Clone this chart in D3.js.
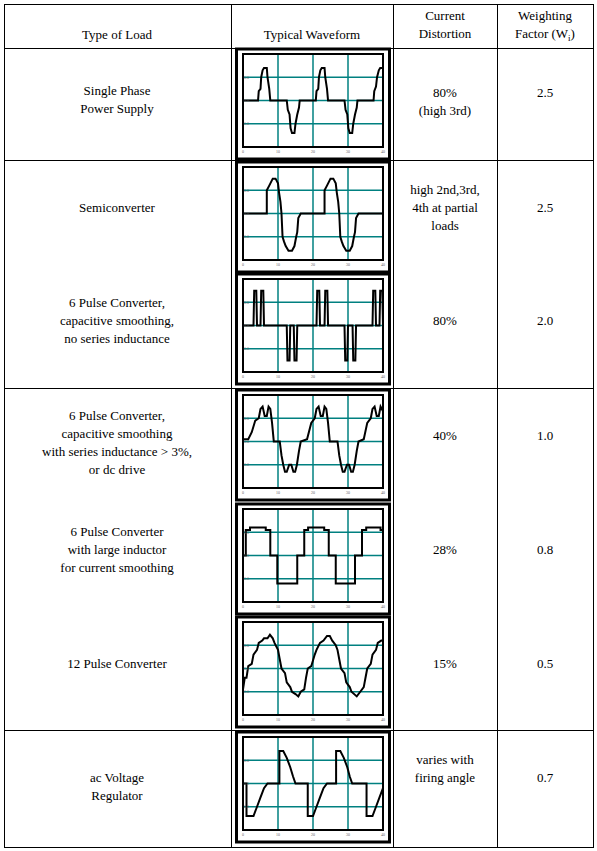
<!DOCTYPE html>
<html><head><meta charset="utf-8">
<script src="https://cdn.jsdelivr.net/npm/d3@7"></script>
<style>body{margin:0;background:#fff}text{font-family:'Liberation Serif','DejaVu Serif',serif;font-size:13px;fill:#000}</style>
</head><body><svg id="c" width="597" height="851"></svg>
<script>
// table text
const headers = [["Type of Load"], ["Typical Waveform"], ["Current", "Distortion"], ["Weighting", "Factor (W"]]
const loads = [["Single Phase", "Power Supply"], ["Semiconverter"], ["6 Pulse Converter,", "capacitive smoothing,", "no series inductance"],
  ["6 Pulse Converter,", "capacitive smoothing", "with series inductance > 3%,", "or dc drive"],
  ["6 Pulse Converter", "with large inductor", "for current smoothing"], ["12 Pulse Converter"], ["ac Voltage", "Regulator"]]
const distortion = [["80%", "(high 3rd)"], ["high 2nd,3rd,", "4th at partial", "loads"], ["80%"], ["40%"], ["28%"], ["15%"], ["varies with", "firing angle"]]
const weighting = ["2.5", "2.5", "2.0", "1.0", "0.8", "0.5", "0.7"]
const xTicks = [0, 10, 20, 30, 40]

// waveforms, [time, current]
const wfSingle = [[0,0],[4.3,0],[4.5,.4],[5,.5],[5.2,1],[5.6,1.3],[6,1.4],[6.8,1.4],[7,1],[7.5,.5],[7.8,0],[12.5,0],[12.8,-.4],[13.3,-.6],[13.6,-1.2],[14,-1.4],[14.7,-1.4],[15,-1],[15.5,-.6],[16,-.3],[16.2,0],
  [20.8,0],[21,.4],[21.5,.5],[21.7,1],[22.1,1.3],[22.5,1.4],[23.3,1.4],[23.5,1],[24,.5],[24.3,0],[29,0],[29.3,-.4],[29.8,-.6],[30.1,-1.2],[30.5,-1.4],[31.2,-1.4],[31.5,-1],[32,-.6],[32.5,-.3],[32.7,0],
  [37.3,0],[37.5,.4],[38,.6],[38.3,1],[38.8,1.3],[39.2,1.4],[40,1.4]]
const wfSemi = [[0,0],[6.8,0],[6.8,1],[7.5,1.2],[8.5,1.5],[9.3,1.5],[10,1.3],[10.3,.9],[10.7,.5],[11,0],[11.3,-1],[11.7,-1.2],[12.2,-1.4],[13,-1.6],[14,-1.6],[14.7,-1.4],[15.2,-1],[15.5,-.8],[15.8,-.2],[16.5,0],
  [23.3,0],[23.3,1],[24,1.2],[25,1.5],[25.8,1.5],[26.5,1.3],[26.8,.9],[27.2,.5],[27.5,0],[27.8,-1],[28.2,-1.2],[28.7,-1.4],[29.5,-1.6],[30.5,-1.6],[31.2,-1.4],[31.7,-1],[32,-.8],[32.3,-.2],[33,0],[40,0]]
const wfCap = [[0,0],[3,0],[3.2,1.5],[3.8,1.5],[4,0],[5,0],[5.2,1.5],[5.8,1.5],[6,0],[12.5,0],[12.7,-1.5],[13.3,-1.5],[13.5,0],[14.5,0],[14.7,-1.5],[15.3,-1.5],[15.5,0],
  [21,0],[21.2,1.5],[21.8,1.5],[22,0],[23.3,0],[23.5,1.5],[24.1,1.5],[24.3,0],[29,0],[29.2,-1.5],[29.8,-1.5],[30,0],[31.3,0],[31.5,-1.5],[32.1,-1.5],[32.3,0],
  [37,0],[37.2,1.5],[37.8,1.5],[38,0],[39,0],[39.2,1.5],[39.8,1.5],[40,0]]
const wfInd = [[0,.1],[1.5,.1],[2.5,.4],[3.5,.9],[4.5,1],[5,1.4],[5.6,1.5],[6.2,1.1],[6.8,1.1],[7.3,1.5],[7.8,1.4],[8.3,.8],[8.8,0],[10.5,0],[11,-.6],[11.5,-1],[12,-1.3],[12.5,-1.3],[13.2,-1],[13.8,-1],[14.4,-1.3],[14.9,-1.3],[15.4,-1],[16,-.4],[16.5,0],[18.3,.1],
  [19.5,.8],[20.5,1],[21,1.4],[21.6,1.5],[22.2,1.1],[22.8,1.1],[23.3,1.5],[23.8,1.4],[24.3,.8],[24.8,0],[27,0],[27.5,-.6],[28,-1],[28.5,-1.3],[29,-1.3],[29.7,-1],[30.3,-1],[30.9,-1.3],[31.4,-1.3],[31.9,-1],[32.5,-.4],[33,0],[34.5,.1],
  [35.5,.8],[36.5,1],[37,1.4],[37.6,1.5],[38.2,1.1],[38.8,1.1],[39.3,1.5],[40,1.3]]
const wfLarge = [[0,0],[.8,0],[.8,1.1],[2,1.1],[2,1.2],[6.5,1.2],[6.5,1.1],[7.8,1.1],[7.8,0],[9.8,0],[9.8,-1.2],[15.5,-1.2],[15.5,0],[17.5,0],[17.5,1.1],[18.6,1.1],[18.6,1.2],[23.2,1.2],[23.2,1.1],[24.5,1.1],[24.5,0],
  [26.5,0],[26.5,-1.2],[32,-1.2],[32,0],[34,0],[34,1.1],[35.2,1.1],[35.2,1.2],[39.3,1.2],[39.3,1.1],[40,1.1]]
const wfTwelve = [[0,-.9],[.5,-.4],[1,-.4],[1.5,.1],[2.5,.2],[3,.6],[4,.8],[4.5,1.1],[5.5,1.2],[6,1.3],[7,1.3],[7.7,1.45],[8.5,1.3],[9,1.1],[10,.8],[10.5,.4],[11,0],[12,-.2],[12.5,-.6],[13.5,-.8],[14,-1],[15,-1.1],[15.8,-1.2],[16.5,-1],[17.5,-.9],[18,-.4],[18.5,0],[19.5,.1],[20.5,.6],[21,.8],[22,1.1],[23,1.2],[24,1.4],[24.8,1.4],[25.5,1.2],[26.5,1],[27,.8],[27.5,.4],[28,0],[29,-.2],[29.5,-.6],[30.5,-.8],[31,-1],[32.5,-1.2],[33.5,-1],[34.5,-.8],[35,-.4],[35.5,0],[36.5,.2],[37,.6],[38,.8],[38.5,1.1],[39.5,1.2],[40,1.2]]
const wfAc = [[0,0],[1,0],[1,-1.4],[3,-1.4],[4,-1],[5,-.6],[6,-.2],[7,0],[10.4,0],[10.4,1.4],[11.5,1.4],[12.5,1.1],[13.5,.7],[14.3,.3],[15,0],[18.5,0],[18.5,-1.4],[20,-1.4],[21,-1],[22,-.6],[23,-.2],[24,0],
  [26.6,0],[26.6,1.4],[27.8,1.4],[28.8,1.1],[29.8,.7],[30.5,.3],[31.2,0],[35.3,0],[35.3,-1.4],[37,-1.4],[38,-1],[39,-.6],[40,-.2]]
const waves = [wfSingle, wfSemi, wfCap, wfInd, wfLarge, wfTwelve, wfAc]

const svg = d3.select("#c")
const frameTop = [49, 162, 274, 390, 504, 617, 732]
const rowY = [100, 208, 321, 443, 550, 664, 787]
const colX = [117, 312, 445, 545]

// grid lines
svg.append("rect").attr("x", 4.5).attr("y", 4.5).attr("width", 589).attr("height", 843).attr("fill", "none").attr("stroke", "#000")
;[231.5, 393.5, 497.5].forEach(x => svg.append("line").attr("x1", x).attr("x2", x).attr("y1", 4).attr("y2", 847).attr("stroke", "#000"))
;[48.5, 160.5, 388.5, 730.5].forEach(y => svg.append("line").attr("y1", y).attr("y2", y).attr("x1", 4).attr("x2", 593).attr("stroke", "#000"))

function lines(arr, x, cy) {
  const g = svg.append("text").attr("text-anchor", "middle").attr("font-family", "Liberation Serif, serif")
  arr.forEach((t, i) => g.append("tspan").attr("x", x).attr("y", cy + (i - (arr.length - 1) / 2) * 18 + 4).text(t))
  return g
}
lines(headers[0], colX[0], 35); lines(headers[1], colX[1], 35); lines(headers[2], colX[2], 25)
const wh = lines(headers[3], colX[3], 25)
wh.append("tspan").attr("font-size", 9).attr("dy", 3).text("i")
wh.append("tspan").attr("dy", -3).text(")")

loads.forEach((d, i) => lines(d, colX[0], rowY[i]))
const distY = [102, 208, 321, 436, 550, 664, 769]
distortion.forEach((d, i) => lines(d, colX[2], distY[i]))
const wY = [93, 208, 321, 436, 550, 664, 778]
weighting.forEach((d, i) => lines([d], colX[3], wY[i]))

const x = d3.scaleLinear().domain([0, 40]).range([243, 383])
const line = d3.line()
waves.forEach((w, i) => {
  const top = frameTop[i]
  const y = d3.scaleLinear().domain([-2, 2]).range([top + 98, top + 5])
  const g = svg.append("g")
  g.append("rect").attr("x", 236.5).attr("y", top).attr("width", 153).attr("height", 110).attr("fill", "#fff").attr("stroke", "#000").attr("stroke-width", 3)
  g.selectAll(".v").data([10, 20, 30]).join("line").attr("x1", d => x(d)).attr("x2", d => x(d)).attr("y1", y(2)).attr("y2", y(-2)).attr("stroke", "#008080").attr("stroke-width", 1.5)
  g.selectAll(".h").data([-1, 0, 1]).join("line").attr("y1", d => y(d)).attr("y2", d => y(d)).attr("x1", x(0)).attr("x2", x(40)).attr("stroke", "#008080").attr("stroke-width", 1.5)
  g.append("rect").attr("x", x(0)).attr("y", y(2)).attr("width", x(40) - x(0)).attr("height", y(-2) - y(2)).attr("fill", "none").attr("stroke", "#000").attr("stroke-width", 2)
  g.append("path").attr("d", line(w.map(p => [x(p[0]), y(p[1])]))).attr("fill", "none").attr("stroke", "#000").attr("stroke-width", 2)
  g.selectAll(".t").data(xTicks).join("text").attr("x", d => x(d)).attr("y", y(-2) + 6).attr("text-anchor", "middle").style("font-size", "4px").style("fill", "#666").text(d => d)
  g.selectAll(".yl").data([-1, 0, 1]).join("text").attr("x", x(0) + 1).attr("y", d => y(d) + 1.5).style("font-size", "4px").style("fill", "#666").text("0.0")
})
</script></body></html>
